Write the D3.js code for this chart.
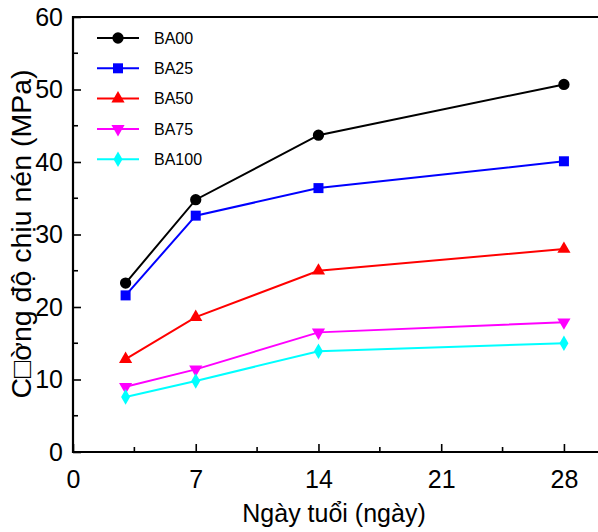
<!DOCTYPE html>
<html>
<head>
<meta charset="utf-8">
<script src="https://cdn.jsdelivr.net/npm/d3@7"></script>
<style>
  body { margin: 0; background: #fff; }
  svg text { font-family: "Liberation Sans", Arial, sans-serif; fill: #000; }
</style>
</head>
<body>
<svg id="chart" width="598" height="532"></svg>
<script>
"use strict";

// data
var days = [3, 7, 14, 28];
var seriesNames = ["BA00", "BA25", "BA50", "BA75", "BA100"];
var ba00 = [23.3, 34.8, 43.7, 50.7];
var ba25 = [21.6, 32.6, 36.4, 40.1];
var ba50 = [12.8, 18.6, 25.0, 28.0];
var ba75 = [9.0, 11.4, 16.5, 17.9];
var ba100 = [7.6, 9.8, 13.9, 15.0];
var xTicks = [0, 7, 14, 21, 28];
var yTicks = [0, 10, 20, 30, 40, 50, 60];
var colors = ["#000000", "#0000ff", "#ff0000", "#ff00ff", "#00ffff"];
var xLabel = "Ngày tuổi (ngày)";
var yLabel = "C\u25A1ờng độ chịu nén  (MPa)";

var allValues = [ba00, ba25, ba50, ba75, ba100];

var svg = d3.select("#chart");
var plotLeft = 73, plotRight = 599, plotTop = 17, plotBottom = 452;

var x = d3.scaleLinear().domain([0, 30]).range([plotLeft, plotRight]);
var y = d3.scaleLinear().domain([0, 60]).range([plotBottom, plotTop]);

// markers for each series
var symbols = [
    {type: d3.symbolCircle, size: 100, rot: 0},
    {type: d3.symbolSquare, size: 100, rot: 0},
    {type: d3.symbolTriangle, size: 75, rot: 0},
    {type: d3.symbolTriangle, size: 75, rot: 180},
    {type: d3.symbolDiamond, size: 70, rot: 0}
];

// top frame line
svg.append("line")
   .attr("x1", plotLeft).attr("x2", 598)
   .attr("y1", plotTop).attr("y2", plotTop)
   .attr("stroke", "#000").attr("stroke-width", 2.2);

// x axis: major ticks, minor ticks in between, all pointing inside
var xAxis = d3.axisBottom(x).tickValues(xTicks).tickSize(-8).tickFormat(d3.format("d"));
var gx = svg.append("g").attr("transform", "translate(0," + plotBottom + ")").call(xAxis);
gx.select(".domain").remove();
gx.append("line").attr("x1", plotLeft - 1).attr("x2", 598).attr("stroke", "#000").attr("stroke-width", 2.2);
gx.selectAll(".tick line").attr("stroke-width", 1.6);
gx.selectAll(".tick text")
  .attr("font-size", 25)
  .attr("y", 36)
  .attr("dy", null);
gx.selectAll(".minor").data(xTicks.map(function(d) { return d + 3.5; }))
  .enter().append("line")
  .attr("x1", function(d) { return x(d); }).attr("x2", function(d) { return x(d); })
  .attr("y1", 0).attr("y2", -5)
  .attr("stroke", "#000").attr("stroke-width", 1.6);

// y axis
var yAxis = d3.axisLeft(y).tickValues(yTicks).tickSize(-8);
var gy = svg.append("g").attr("transform", "translate(" + plotLeft + ",0)").call(yAxis);
gy.select(".domain").remove();
gy.append("line").attr("y1", plotTop - 1).attr("y2", plotBottom + 1).attr("stroke", "#000").attr("stroke-width", 2.2);
gy.selectAll(".tick line").attr("stroke-width", 1.6);
gy.selectAll(".tick text")
  .attr("font-size", 25)
  .attr("x", -10);
gy.selectAll(".minor").data(yTicks.slice(0, -1).map(function(d) { return d + 5; }))
  .enter().append("line")
  .attr("y1", function(d) { return y(d); }).attr("y2", function(d) { return y(d); })
  .attr("x1", 0).attr("x2", 5)
  .attr("stroke", "#000").attr("stroke-width", 1.6);

// axis titles
svg.append("text")
   .attr("x", 334).attr("y", 522)
   .attr("text-anchor", "middle")
   .attr("font-size", 25)
   .text(xLabel);

svg.append("text")
   .attr("transform", "translate(31,234) rotate(-90)")
   .attr("text-anchor", "middle")
   .attr("font-size", 28.5)
   .text(yLabel);

// series
var line = d3.line()
    .x(function(d, i) { return x(days[i]); })
    .y(function(d) { return y(d); });

allValues.forEach(function(vals, k) {
    var g = svg.append("g");
    g.append("path")
     .attr("d", line(vals))
     .attr("fill", "none")
     .attr("stroke", colors[k])
     .attr("stroke-width", 2);
    g.selectAll("path.pt").data(vals).enter().append("path")
     .attr("class", "pt")
     .attr("d", d3.symbol().type(symbols[k].type).size(symbols[k].size))
     .attr("transform", function(d, i) {
         return "translate(" + x(days[i]) + "," + y(d) + ") rotate(" + symbols[k].rot + ")";
     })
     .attr("fill", colors[k]);
});

// legend
var legend = svg.append("g").attr("transform", "translate(97,38)");
seriesNames.forEach(function(name, k) {
    var row = legend.append("g").attr("transform", "translate(0," + (k * 30.3) + ")");
    row.append("line").attr("x1", 0).attr("x2", 42)
       .attr("stroke", colors[k]).attr("stroke-width", 2);
    row.append("path")
       .attr("d", d3.symbol().type(symbols[k].type).size(symbols[k].size))
       .attr("transform", "translate(21,0) rotate(" + symbols[k].rot + ")")
       .attr("fill", colors[k]);
    row.append("text")
       .attr("x", 57)
       .attr("dy", "0.36em")
       .attr("font-size", 16)
       .text(name);
});
</script>
</body>
</html>
